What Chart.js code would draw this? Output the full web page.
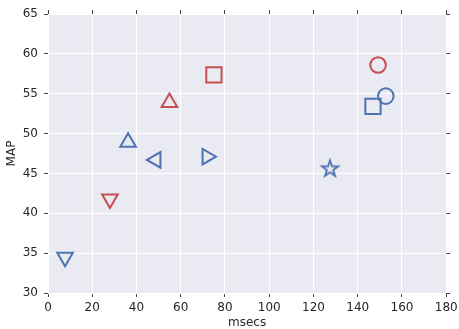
<!DOCTYPE html>
<html><head><meta charset="utf-8">
<script src="https://cdn.jsdelivr.net/npm/chart.js@4.4.0/dist/chart.umd.min.js"></script>
<style>html,body{margin:0;padding:0;background:#fff}#wrap{width:459px;height:329px}</style>
</head><body><div id="wrap"><canvas id="c" width="459" height="329"></canvas></div>
<script>
// ---- data ----
const xTicks = [0, 20, 40, 60, 80, 100, 120, 140, 160, 180];
const yTicks = [30, 35, 40, 45, 50, 55, 60, 65];
const blueMsecs = [7.7, 36.2, 48.8, 71.9, 127.5, 146.9, 152.7];
const blueMAP   = [34.5, 48.9, 46.7, 47.1, 45.6, 53.4, 54.7];
const redMsecs  = [28.0, 54.9, 75.0, 149.2];
const redMAP    = [41.8, 53.9, 57.35, 58.6];
const xTitle = 'msecs';
const yTitle = 'MAP';

// ---- styles ----
const BLUE = '#4C72B0', RED = '#C44E52', BG = '#EAEAF2', TXT = '#262626';
function makeStar(color) {
  const cv = document.createElement('canvas');
  cv.width = 24; cv.height = 24;
  const g = cv.getContext('2d');
  const R = 8.6, r = R * 0.381966, cx = 12, cy = 12.3;
  g.beginPath();
  for (let i = 0; i < 10; i++) {
    const a = -Math.PI / 2 + i * Math.PI / 5;
    const rr = i % 2 ? r : R;
    const px = cx + rr * Math.cos(a), py = cy + rr * Math.sin(a);
    i ? g.lineTo(px, py) : g.moveTo(px, py);
  }
  g.closePath();
  g.strokeStyle = color; g.lineWidth = 1.8; g.lineJoin = 'miter';
  g.stroke();
  return cv;
}
const star = makeStar(BLUE);
const blueShapes = ['triangle', 'triangle', 'triangle', 'triangle', star, 'rect', 'circle'];
const blueRot    = [180, 0, 270, 90, 0, 0, 0];
const blueRad    = [9, 9, 9, 9, 9, 10.8, 7.8];
const redShapes  = ['triangle', 'triangle', 'rect', 'circle'];
const redRot     = [180, 0, 0, 0];
const redRad     = [9, 9, 10.8, 7.8];

const toPts = (xs, ys) => xs.map((x, i) => ({x, y: ys[i]}));

const bgPlugin = {
  id: 'bg',
  beforeDraw(chart) {
    const a = chart.chartArea, ctx = chart.ctx;
    ctx.save(); ctx.fillStyle = BG;
    ctx.fillRect(a.left, a.top, a.right - a.left, a.bottom - a.top);
    ctx.restore();
  }
};

const font = {family: 'DejaVu Sans', size: 12};
const tickSet = (arr) => (s) => { s.ticks = arr.map(v => ({value: v})); };
const fitH = (h) => (s) => { s.height = h; s.paddingLeft = 0; s.paddingRight = 0; };
const fitV = (w) => (s) => { s.width = w; s.paddingTop = 0; s.paddingBottom = 0; };

new Chart(document.getElementById('c'), {
  type: 'scatter',
  data: {
    datasets: [
      {data: toPts(redMsecs, redMAP), borderColor: RED, backgroundColor: 'rgba(0,0,0,0)',
       pointStyle: redShapes, rotation: redRot, pointRadius: redRad, borderWidth: 2},
      {data: toPts(blueMsecs, blueMAP), borderColor: BLUE, backgroundColor: 'rgba(0,0,0,0)',
       pointStyle: blueShapes, rotation: blueRot, pointRadius: blueRad, borderWidth: 2}
    ]
  },
  options: {
    responsive: false, animation: false, devicePixelRatio: 1,
    layout: {padding: 0},
    plugins: {legend: {display: false}, tooltip: {enabled: false}},
    elements: {point: {hoverRadius: 9}},
    scales: {
      x: {type: 'linear', position: 'bottom', min: 0, max: 180,
          afterBuildTicks: tickSet(xTicks),
          afterFit: fitH(36),
          border: {display: false},
          grid: {color: '#ffffff', lineWidth: 1, tickColor: '#444', tickLength: 4, tickWidth: 1},
          ticks: {font, color: TXT, padding: 4, maxRotation: 0, autoSkip: false},
          title: {display: true, text: xTitle, font, color: TXT, padding: {top: 0, bottom: -1}}},
      x2: {type: 'linear', position: 'top', min: 0, max: 180,
          afterBuildTicks: tickSet(xTicks),
          afterFit: fitH(14),
          border: {display: false},
          grid: {drawOnChartArea: false, tickColor: '#444', tickLength: 4},
          ticks: {display: false}},
      y: {type: 'linear', position: 'left', min: 30, max: 65,
          afterBuildTicks: tickSet(yTicks),
          afterFit: fitV(48),
          border: {display: false},
          grid: {color: '#ffffff', lineWidth: 1, tickColor: '#444', tickLength: 4, tickWidth: 1},
          ticks: {font, color: TXT, padding: 6, autoSkip: false},
          title: {display: true, text: yTitle, font, color: TXT, padding: {top: 5, bottom: 0}}},
      y2: {type: 'linear', position: 'right', min: 30, max: 65,
          afterBuildTicks: tickSet(yTicks),
          afterFit: fitV(12),
          border: {display: false},
          grid: {drawOnChartArea: false, tickColor: '#444', tickLength: 4},
          ticks: {display: false}}
    }
  },
  plugins: [bgPlugin]
});
</script>
</body></html>
